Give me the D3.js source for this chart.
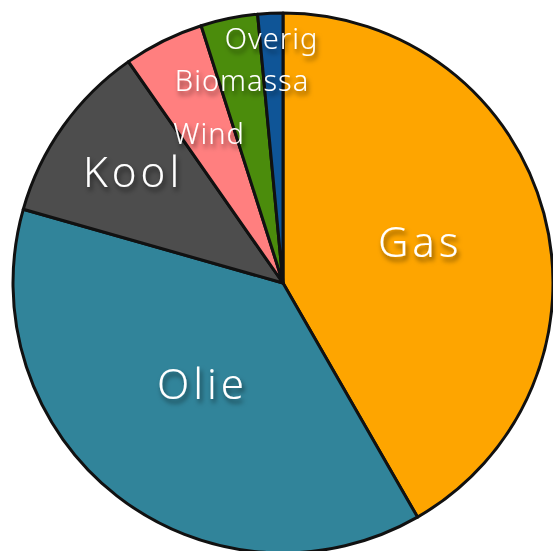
<!DOCTYPE html>
<html>
<head>
<meta charset="utf-8">
<script src="https://cdn.jsdelivr.net/npm/d3@7"></script>
<style>
  html, body { margin: 0; padding: 0; background: #fff; }
  svg { display: block; }
</style>
</head>
<body>
<svg id="chart" width="553" height="551"></svg>
<script>
const categories = ["Gas", "Olie", "Kool", "Wind", "Biomassa", "Overig"];
const values = [41.7, 37.7, 10.9, 4.8, 3.4, 1.5];
const colors = ["#FEA500", "#31849A", "#4D4D4D", "#FF7F7F", "#4B8C0C", "#0F5597"];

const svg = d3.select("#chart");
const cx = 283, cy = 283, R = 270;

const defs = svg.append("defs");
const f = defs.append("filter").attr("id", "tshadow")
  .attr("x", "-20%").attr("y", "-30%").attr("width", "140%").attr("height", "170%");
f.append("feDropShadow").attr("dx", 2).attr("dy", 4).attr("stdDeviation", 2.5)
  .attr("flood-color", "#000").attr("flood-opacity", 0.55);

const data = categories.map((c, i) => ({ name: c, value: values[i], color: colors[i] }));
const pie = d3.pie().value(d => d.value).sort(null);
const arcs = pie(data);
const arc = d3.arc().innerRadius(0).outerRadius(R);

const g = svg.append("g").attr("transform", `translate(${cx},${cy})`);

g.selectAll("path.slice").data(arcs).join("path")
  .attr("class", "slice")
  .attr("d", arc)
  .attr("fill", d => d.data.color)
  .attr("stroke", "#111")
  .attr("stroke-width", 3)
  .attr("stroke-linejoin", "round");

// label radius, vertical nudge and font size by slice
const labelR = [142, 131, 184, 167, 205, 243];
const labelDy = [-6, -4, -6, -1, -3, -3];
const labelSize = [42, 42, 42, 29, 29, 29];

g.selectAll("text.lbl").data(arcs).join("text")
  .attr("class", "lbl")
  .attr("transform", (d, i) => {
    const la = d3.arc().innerRadius(labelR[i]).outerRadius(labelR[i]);
    const [x, y] = la.centroid(d);
    return `translate(${x},${y + labelDy[i]})`;
  })
  .attr("text-anchor", "middle")
  .attr("dominant-baseline", "central")
  .attr("font-family", "'Noto Sans', 'Open Sans', sans-serif")
  .attr("font-weight", 300)
  .attr("font-size", (d, i) => labelSize[i])
  .attr("letter-spacing", (d, i) => i < 3 ? 4 : 1)
  .attr("fill", "#fff")
  .attr("filter", "url(#tshadow)")
  .text(d => d.data.name);
</script>
</body>
</html>
